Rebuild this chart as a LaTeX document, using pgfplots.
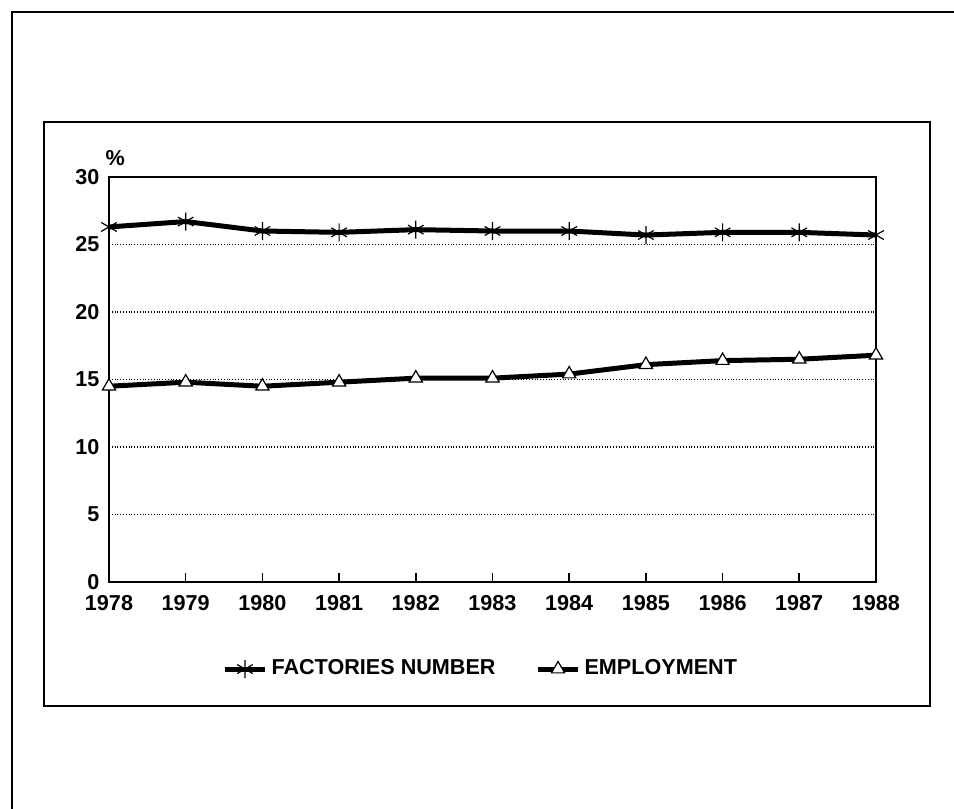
\documentclass[border=0pt]{standalone}
\usepackage{pgfplots}
\pgfplotsset{compat=1.18}
\usepackage{fontspec}
\setmainfont{Liberation Sans}
\begin{document}
\fontsize{10.8}{13}\selectfont\bfseries
\begin{tikzpicture}
\useasboundingbox (0pt,0pt) rectangle (477pt,404.5pt);
\draw[line width=1pt] (6pt,0pt) -- (6pt,398.5pt) -- (477pt,398.5pt);
\draw[line width=1pt] (22pt,51.5pt) rectangle (465pt,343.5pt);
\begin{axis}[
  at={(54.5pt,113.5pt)}, anchor=south west,
  width=383.5pt, height=202.5pt, scale only axis,
  xmin=1978, xmax=1988, ymin=0, ymax=30,
  xtick={1978,...,1988}, ytick={0,5,...,30},
  /pgf/number format/assume math mode=true,
  xticklabel style={/pgf/number format/1000 sep={}, yshift=-3pt, font=\fontsize{10.8}{13}\selectfont\bfseries},
  yticklabel style={xshift=-1pt, font=\fontsize{10.8}{13}\selectfont\bfseries},
  xtick pos=bottom, ytick pos=left, tick align=inside,
  xtick style={line width=0.8pt, black}, major tick length=4.5pt,
  ytick style={draw=none},
  axis line style={line width=0.9pt},
  ymajorgrids, grid style={densely dotted, line width=0.6pt, black},
  legend columns=2,
  legend style={at={(axis description cs:0.486,-0.215)}, anchor=center, draw=none, fill=none,
    font=\fontsize{10.8}{13}\selectfont\bfseries,
    /tikz/every even column/.append style={column sep=18pt}},
  legend image code/.code={\draw[#1, mark repeat=2, mark phase=2] plot coordinates {(0pt,0pt) (10pt,0pt) (20pt,0pt)};},
  clip=false,
]
\addplot[black, line width=2.5pt, mark=asterisk, mark size=4.5pt, mark options={line width=0.6pt, solid}] coordinates {
 (1978,26.3) (1979,26.7) (1980,26.0) (1981,25.9) (1982,26.1) (1983,26.0)
 (1984,26.0) (1985,25.7) (1986,25.9) (1987,25.9) (1988,25.7)};
\addlegendentry{FACTORIES NUMBER}
\addplot[black, line width=2.5pt, mark=triangle*, mark size=3.8pt, mark options={line width=0.6pt, fill=white, solid}] coordinates {
 (1978,14.5) (1979,14.8) (1980,14.5) (1981,14.8) (1982,15.1) (1983,15.1)
 (1984,15.4) (1985,16.1) (1986,16.4) (1987,16.5) (1988,16.8)};
\addlegendentry{EMPLOYMENT}
\node at (rel axis cs:0.008,1) [yshift=9.5pt] {\%};
\end{axis}
\end{tikzpicture}
\end{document}
